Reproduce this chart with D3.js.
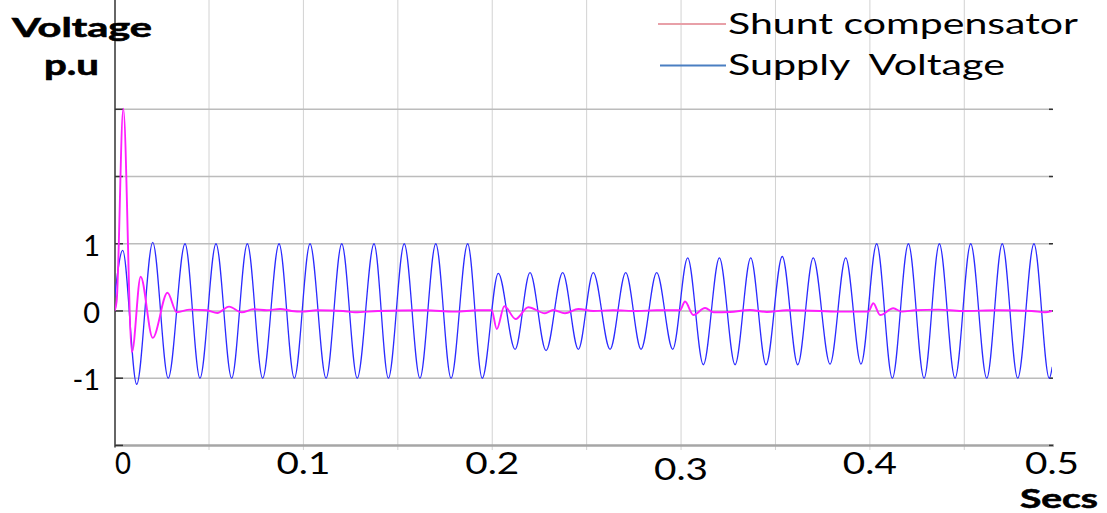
<!DOCTYPE html>
<html>
<head>
<meta charset="utf-8">
<script src="https://cdnjs.cloudflare.com/ajax/libs/d3/7.8.5/d3.min.js"></script>
<style>
  body { margin: 0; background: #fff; }
  svg text { font-family: Lato, "Open Sans", sans-serif; fill: #000; }
</style>
</head>
<body>
<svg id="chart" width="1107" height="513"></svg>
<script>
// axis ticks / grid
var timeTicks = [0, 0.1, 0.2, 0.3, 0.4, 0.5],
    timeGrid = [0.05, 0.1, 0.15, 0.2, 0.25, 0.3, 0.35, 0.4, 0.45],
    voltTicks = [-2, -1, 0, 1, 2, 3],
    voltGrid = [-1, 0, 1, 2, 3],
    voltLabels = [-1, 0, 1];

// supply voltage at each peak / trough (secs, p.u)
var supplyT = [0, 0.0043, 0.0117, 0.0202, 0.0284, 0.0373, 0.0452, 0.0537, 0.0620, 0.0703,
               0.0784, 0.0871, 0.0952, 0.1035, 0.1120, 0.1203, 0.1285, 0.1374, 0.1450, 0.1534,
               0.1617, 0.1701, 0.1782, 0.1870, 0.1947, 0.2032, 0.2121, 0.2200, 0.2285, 0.2373,
               0.2456, 0.2535, 0.2624, 0.2707, 0.2788, 0.2871, 0.2956, 0.3035, 0.3118, 0.3203,
               0.3286, 0.3369, 0.3450, 0.3536, 0.3618, 0.3700, 0.3789, 0.3872, 0.3953, 0.4036,
               0.4119, 0.4204, 0.4287, 0.4368, 0.4451, 0.4534, 0.4619, 0.4701, 0.4783, 0.4869,
               0.4950, 0.4966];
var supplyV = [0.2, 0.90, -1.09, 1.02, -1.0, 1.0, -1.0, 1.0, -1.0, 1.0,
               -1.0, 1.0, -1.0, 1.0, -1.0, 1.0, -1.0, 1.0, -1.0, 1.0,
               -1.0, 1.0, -1.0, 1.0, -1.0, 0.56, -0.57, 0.57, -0.59, 0.57,
               -0.57, 0.57, -0.57, 0.57, -0.57, 0.57, -0.57, 0.79, -0.80, 0.79,
               -0.80, 0.79, -0.80, 0.81, -0.80, 0.79, -0.79, 0.79, -0.79, 1.0,
               -1.0, 1.0, -1.0, 1.0, -1.0, 1.0, -1.0, 1.0, -1.0, 1.0,
               -1.0, -0.83];

// shunt compensator output
var shuntT = [0, 0.0011, 0.0046, 0.0092, 0.0138, 0.0202, 0.0280, 0.0329, 0.0399, 0.0488,
              0.0544, 0.0606, 0.0673, 0.0735, 0.0806, 0.0876, 0.0938, 0.0991, 0.1070, 0.1210,
              0.1273, 0.1395, 0.1644, 0.1803, 0.1925, 0.1997, 0.2024, 0.2064, 0.2124, 0.2191,
              0.2279, 0.2323, 0.2385, 0.2456, 0.2535, 0.2640, 0.2765, 0.2871, 0.2994, 0.3021,
              0.3065, 0.3127, 0.3171, 0.3259, 0.3365, 0.3454, 0.3559, 0.3736, 0.3815, 0.3992,
              0.4018, 0.4054, 0.4124, 0.4169, 0.4239, 0.4362, 0.4486, 0.4680, 0.4857, 0.4927,
              0.4966];
var shuntV = [0, 0.15, 3.01, -0.61, 0.51, -0.40, 0.27, -0.02, 0.02, 0.01,
              -0.03, 0.065, -0.02, 0.025, 0.01, 0.03, 0.0, -0.01, 0.01, 0.0,
              -0.02, 0.0, 0.01, -0.01, 0.01, 0.01, -0.27, 0.07, -0.12, 0.055,
              -0.035, 0.015, -0.035, 0.03, 0.0, 0.01, 0.0, 0.01, 0.01, 0.14,
              -0.06, 0.045, -0.02, -0.015, 0.015, -0.015, 0.01, 0.0, -0.01, -0.01,
              0.115, -0.06, 0.04, -0.01, 0.01, 0.02, 0.0, 0.01, 0.0, -0.02,
              0.0];

var seriesNames = ["Shunt compensator", "Supply  Voltage"];

var svg = d3.select("#chart"),
    left = 115, right = 1052, top = 46, bottom = 445.4;

var x = d3.scaleLinear().domain([0, 0.5]).range([114.6, 1058.7]),
    y = d3.scaleLinear().domain([-2, 3]).range([445.4, 109.3]);

/*
 * text squeezed / stretched to the width it has in the picture
 */
function label(g, str, px, py, size, width, opts) {
    opts = opts || {};
    var t = g.append("text")
        .attr("x", px)
        .attr("y", py)
        .attr("font-size", size)
        .attr("font-weight", opts.bold ? 700 : 400)
        .attr("text-anchor", opts.anchor || "start")
        .style("white-space", "pre")
        .text(str);
    if (width) {
        t.attr("textLength", width).attr("lengthAdjust", "spacingAndGlyphs");
    }
    if (opts.bold) {
        t.attr("stroke", "#000").attr("stroke-width", 0.6);
    }
    return t;
}

// grid
svg.append("g").selectAll("line").data(timeGrid).enter().append("line")
    .attr("x1", function(d) { return x(d); })
    .attr("x2", function(d) { return x(d); })
    .attr("y1", top).attr("y2", 450)
    .attr("stroke", "#d2d2d2").attr("stroke-width", 1);

svg.append("g").selectAll("line").data(voltGrid).enter().append("line")
    .attr("x1", left).attr("x2", right)
    .attr("y1", function(d) { return y(d); })
    .attr("y2", function(d) { return y(d); })
    .attr("stroke", "#bcbcbc").attr("stroke-width", 1.6);

// bottom + left axis lines
svg.append("line")
    .attr("x1", left).attr("x2", right + 2)
    .attr("y1", bottom).attr("y2", bottom)
    .attr("stroke", "#a6a6a6").attr("stroke-width", 2.5);
svg.append("line")
    .attr("x1", left).attr("x2", left)
    .attr("y1", top).attr("y2", bottom + 2)
    .attr("stroke", "#666").attr("stroke-width", 2);

// small tick marks on both sides
svg.append("g").selectAll("line").data(voltTicks).enter().append("line")
    .attr("x1", left).attr("x2", left + 8)
    .attr("y1", function(d) { return y(d); })
    .attr("y2", function(d) { return y(d); })
    .attr("stroke", "#333").attr("stroke-width", 1.5);
svg.append("g").selectAll("line").data(voltTicks).enter().append("line")
    .attr("x1", right - 3).attr("x2", right + 1)
    .attr("y1", function(d) { return y(d); })
    .attr("y2", function(d) { return y(d); })
    .attr("stroke", "#333").attr("stroke-width", 1.5);

// traces
svg.append("clipPath").attr("id", "plotClip")
  .append("rect")
    .attr("x", left).attr("y", 40)
    .attr("width", right - left).attr("height", bottom - 40);

var line = d3.line()
    .x(function(d) { return x(d[0]); })
    .y(function(d) { return y(d[1]); })
    .curve(d3.curveMonotoneX);

var traces = svg.append("g").attr("clip-path", "url(#plotClip)");
traces.append("path")
    .attr("d", line(d3.zip(supplyT, supplyV)))
    .attr("fill", "none")
    .attr("stroke", "#2b2bff")
    .attr("stroke-width", 1.3);
traces.append("path")
    .attr("d", line(d3.zip(shuntT, shuntV)))
    .attr("fill", "none")
    .attr("stroke", "#ff1eff")
    .attr("stroke-width", 1.9);

// y tick labels
var yl = svg.append("g");
voltLabels.forEach(function(v) {
    label(yl, String(v), 100, y(v) + 12, 29, null, {anchor: "end"});
});

// x tick labels
var xl = svg.append("g");
timeTicks.forEach(function(t, i) {
    var s = t === 0 ? "0" : String(t),
        cx = Math.min(x(t), right),
        w = t === 0 ? 16 : 54,
        dy = (t === 0.3) ? 6 : 0;
    if (t === 0) {
        label(xl, s, left, 474, 30, w);
    } else {
        label(xl, s, cx - w / 2, 474 + dy, 30, w);
    }
});

// axis titles
label(svg, "Voltage", 12, 37, 27, 140, {bold: true});
label(svg, "p.u", 44, 75, 28, 55, {bold: true});
label(svg, "Secs", 1020, 508, 27, 78, {bold: true});

// legend
var legendColors = ["#e8a0a8", "#4a7fc2"],
    legend = svg.append("g");
seriesNames.forEach(function(name, i) {
    var ly = 24 + i * 41.5;
    legend.append("line")
        .attr("x1", 658 + i * 2).attr("x2", 726)
        .attr("y1", ly).attr("y2", ly)
        .attr("stroke", legendColors[i]).attr("stroke-width", 2);
    label(legend, name, 728, ly + 9.5, 28, i === 0 ? 350 : 277);
});
</script>
</body>
</html>
